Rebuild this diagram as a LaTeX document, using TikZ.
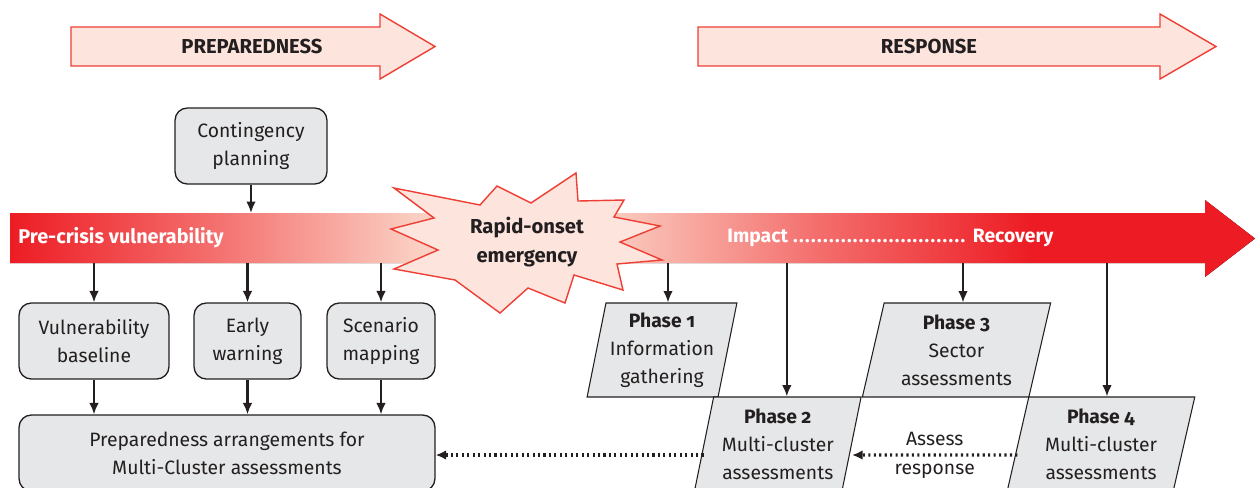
\documentclass[tikz,border=0pt]{standalone}
\usepackage{fontspec}
\setmainfont{Fira Sans}[Numbers=OldStyle]
\usetikzlibrary{arrows.meta,shapes.geometric}
\definecolor{ink}{HTML}{231F20}
\definecolor{boxgray}{HTML}{E6E7E8}
\definecolor{alarm}{HTML}{ED1C24}
\definecolor{blush}{HTML}{FBD1C4}
\definecolor{petal}{HTML}{FDE4DC}
\definecolor{edge}{HTML}{EE3F35}
\colorlet{salmon}{alarm!55!blush}
\pgfdeclarehorizontalshading{crisisbar}{100bp}{color(0bp)=(alarm); color(25bp)=(alarm); color(33bp)=(salmon); color(41.5bp)=(blush); color(48.7bp)=(blush); color(57.5bp)=(salmon); color(66bp)=(alarm); color(100bp)=(alarm)}
\begin{document}
\begin{tikzpicture}[x=0.02cm,y=-0.02cm,font=\fontsize{11}{16}\selectfont,text=ink,
    roundbox/.style={draw=ink,line width=0.75pt,fill=boxgray,rounded corners=7pt,align=center,inner sep=2pt,minimum height=1.52cm},
    phasebox/.style={draw=ink,line width=0.6pt,fill=boxgray,trapezium,trapezium left angle=77,trapezium right angle=103,trapezium stretches=true,minimum height=1.88cm,align=center,inner sep=1pt},
    stage/.style={draw=edge,line width=0.8pt,fill=petal},
    down/.style={-{Latex[length=6.5pt,width=5.5pt]},line width=1.25pt,draw=ink},
    feedback/.style={-{Latex[length=6pt,width=5.5pt]},line width=1.8pt,dash pattern=on 1.2pt off 1.9pt,draw=ink}]
    \useasboundingbox (0,0) rectangle (1257,487);
    \clip (0,0) rectangle (1257,487);

    % phase arrows on top
    \draw[stage] (71,27) -- (380,27) -- (380,14) -- (435,46.5) -- (380,79) -- (380,66) -- (71,66) -- cycle;
    \node[font=\fontsize{11.5}{14}\selectfont\bfseries] (prep-label) at (252,46.5) {PREPAREDNESS};
    \draw[stage] (698,27) -- (1160,27) -- (1160,14) -- (1216,46.5) -- (1160,79) -- (1160,66) -- (698,66) -- cycle;
    \node[font=\fontsize{11.5}{14}\selectfont\bfseries] (resp-label) at (929,46.5) {RESPONSE};

    % the time line
    \fill[shading=crisisbar] (10,213) -- (1205,213) -- (1205,200) -- (1255,238.5) -- (1205,277) -- (1205,263) -- (10,263) -- cycle;
    \coordinate (bartop) at (0,213);
    \coordinate (barbot) at (0,263);
    \node[anchor=west,inner sep=0pt,text=white,font=\fontsize{11.3}{14}\selectfont\bfseries] (precrisis) at (18,238) {Pre-crisis vulnerability};
    \node[anchor=west,inner sep=0pt,text=white,font=\fontsize{11}{14}\selectfont\bfseries] (impact) at (727,238)
        {Impact \hbox to 100pt{\leaders\hbox to 3.4pt{\hss.\hss}\hfill} Recovery};

    % the emergency
    \filldraw[stage] (394,188) -- (480,205) -- (497,186) -- (531,203) -- (576,173) -- (578,201) -- (624,200)
        -- (614,217) -- (660,226) -- (620,242) -- (662,260) -- (617,264) -- (623,290) -- (574,275)
        -- (565,303) -- (528,288) -- (500,313) -- (455,280) -- (394,269) -- (438,250) -- (391,229)
        -- (434,218) -- cycle;
    \node[font=\fontsize{11.5}{16}\selectfont\bfseries,align=center] (rapid) at (527,242) {Rapid-onset\\emergency};

    % preparedness side
    \node[roundbox,minimum width=3.04cm] (contingency) at (251,146) {Contingency\\planning};
    \node[roundbox,minimum width=3.0cm] (baseline) at (94,341) {Vulnerability\\baseline};
    \node[roundbox,minimum width=2.14cm] (warning) at (247.5,341) {Early\\warning};
    \node[roundbox,minimum width=2.16cm] (scenario) at (381,341) {Scenario\\mapping};
    \node[roundbox,minimum width=8.32cm] (arrangements) at (227,453) {Preparedness arrangements for\\Multi-Cluster assessments};

    \draw[down] (contingency.south) -- (contingency.south |- bartop);
    \foreach \b in {baseline,warning,scenario}{
        \draw[down] (\b.north |- barbot) -- (\b.north);
        \draw[down] (\b.south) -- (\b.south |- arrangements.north);
    }

    % response side
    \node[phasebox,minimum width=3.0cm] (phase1) at (662,350) {\textbf{Phase 1}\\Information\\gathering};
    \node[phasebox,minimum width=3.8cm] (phase3) at (956.5,350) {\textbf{Phase 3}\\Sector\\assessments};
    \node[phasebox,minimum width=3.34cm] (phase2) at (777.8,444) {\textbf{Phase 2}\\Multi-cluster\\assessments};
    \node[phasebox,minimum width=3.76cm] (phase4) at (1101,444) {\textbf{Phase 4}\\Multi-cluster\\assessments};

    \foreach \p/\dx in {phase1/6,phase2/9,phase3/6.5,phase4/6}{
        \draw[down] ([xshift=\dx*0.02cm]\p.north |- barbot) -- ([xshift=\dx*0.02cm]\p.north);
    }

    \draw[feedback] ([yshift=-0.22cm]phase4.west) -- ([yshift=-0.22cm]phase2.east)
        node[midway,align=center,font=\fontsize{11}{16.5}\selectfont] (assess) {Assess\\response};
    \draw[feedback] ([yshift=-0.22cm]phase2.west) coordinate (fromtwo) -- (fromtwo -| arrangements.east);
\end{tikzpicture}
\end{document}
